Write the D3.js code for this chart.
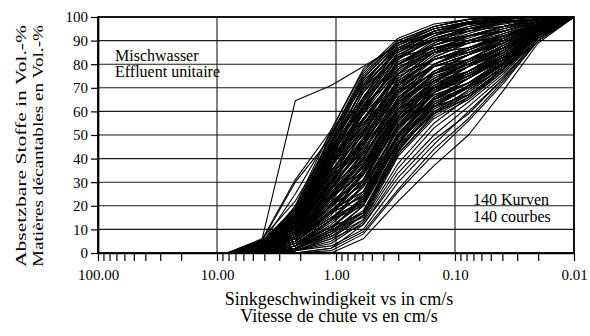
<!DOCTYPE html>
<html>
<head>
<meta charset="utf-8">
<script src="https://cdn.jsdelivr.net/npm/d3@7"></script>
<style>
  body { margin: 0; background: #fff; }
  svg { display: block; }
</style>
</head>
<body>
<div id="chart"></div>
<script>
const FONT = "'Liberation Serif', 'Times New Roman', Times, 'DejaVu Serif', serif";

// velocity classes (cm/s) at which every curve was measured
const velocities = [8.2, 4.2, 2.2, 1.1, 0.59, 0.30, 0.15, 0.077, 0.039, 0.02, 0.01];

// cumulative settleable solids (Vol.-%) per curve, one value per velocity class
const curves = [
  [0,4,17,48,72,88,94,97.5,99.5,100,100],
  [0,3.5,16,46,70,87,94,98,99.5,100,100],
  [0,5,18,49,74,89,93,95,98,99,100],
  [0,4.5,15,44,68,86,93,97,99,100,100],
  [0,4,18,47,66,84,92,96,99,100,100],
  [0,3,14,43,71,89,95,98,99.5,100,100],
  [0,4,17,46,73,87,90,94,98,99.5,100],
  [0,4.5,16,45,62,83,94,97,99,100,100],
  [0,4,19,50,71,86,93,95,96,99,100],
  [0,3.5,17,47,65,80,90,96,98.5,99,100],

  [0,3,16,44,68,84,91,95,98,99,100],
  [0,2.5,14,40,66,85,92,97,99,100,100],
  [0,4,15,47,69,83,90,92,96,99,100],
  [0,3.5,15,42,64,85,94,97,98,99,100],
  [0,4,16,44,61,80,89,95,98,99,100],
  [0,3,12,40,66,87,93,97,98,99.5,100],
  [0,4,16,46,70,83,87,91,96,99,100],
  [0,4,17,43,59,82,91,95,99,100,100],
  [0,4,14,45,70,86,90,92,94,98,100],
  [0,3,15,43,62,78,88,94,98,99,100],

  [0,3,14,41,63,81,88,92,96,99,100],
  [0,2.5,13,37,61,80,89,95,98,99,100],
  [0,3.5,16,44,64,80,87,90,94,98,100],
  [0,3,12,39,59,82,91,94,96,99,100],
  [0,3,15,41,57,76,86,92,96,99,100],
  [0,2,11,37,62,83,91,95,97,99,100],
  [0,3,14,43,66,80,86,90,94,98.5,100],
  [0,3.5,15,39,54,78,88,93,97.5,99,100],
  [0,3,13,40,65,83,87,89,92,98,100],
  [0,3,14,42,59,74,85,92,96,98,100],

  [0,3,13,38,57,77,86,90,94,98,100],
  [0,2.5,12,36,59,78,86,92,96,99,100],
  [0,3,14,40,56,76,85,87,92,97,100],
  [0,2,11,34,54,76,88,92,94,98,100],
  [0,3,15,37,52,72,83,89,94,98,100],
  [0,2.5,11,36,60,80,88,92,95,98,100],
  [0,3,13,39,62,76,82,87,92,97.5,100],
  [0,3,12,35,50,74,85,90,95,99,100],
  [0,3,12,37,61,79,85,87,91,97,100],
  [0,3,13,38,55,71,83,89,93,97,100],

  [0,2.5,12,34,53,73,82,87,92,97,100],
  [0,2,10,32,52,73,84,90,94,98,100],
  [0,3,13,37,54,72,82,85,91,97,100],
  [0,3,11,30,48,74,85,89,92,97,100],
  [0,2.5,13,35,50,69,80,86,92,97,100],
  [0,2,9,30,51,76,85,89,92,97,100],
  [0,3,12,36,57,72,79,84,90,96.5,100],
  [0,3,11,31,45,69,82,87,93,98,100],
  [0,2.5,11,34,56,75,82,85,89,96,100],
  [0,2,12,33,47,67,80,86,92,97,100],

  [0,2,11,31,49,70,80,85,91,97,100],
  [0,1.5,10,29,48,69,80,87,92,97,100],
  [0,3,12,33,48,68,79,82,89,96,100],
  [0,2,10,27,45,71,82,86,91,97,100],
  [0,2,11,30,43,65,77,84,90,97,100],
  [0,1.5,8,27,47,72,82,87,91,96.5,100],
  [0,2,11,33,52,69,76,82,89,96,100],
  [0,2.5,11,28,40,66,79,84,91,97,100],
  [0,2,10,30,51,71,79,82,87,95.5,100],
  [0,2,11,32,46,63,76,84,90,96,100],

  [0,2,9,28,44,66,77,82,89,96,100],
  [0,1.5,8,25,43,65,77,84,90,96.5,100],
  [0,2,10,29,43,64,75,80,87,95,100],
  [0,2,7,24,40,65,79,84,89,96,100],
  [0,2,10,27,38,61,73,81,88,95.5,100],
  [0,1.5,7,24,42,68,79,84,89,96,100],
  [0,2,10,30,47,65,74,80,87,95.5,100],
  [0,2,9,25,36,62,76,82,90,96.5,100],
  [0,2,8,27,46,68,76,80,85,95,100],
  [0,1.5,9,26,37,58,72,81,88,95,100],

  [0,1.5,8,24,39,62,74,80,87,95,100],
  [0,1,7,22,40,63,74,82,89,96,100],
  [0,2,9,26,38,60,72,77,85,94.5,100],
  [0,1.5,7,20,34,61,76,81,87,95,100],
  [0,2,9,25,36,58,71,79,86,95,100],
  [0,1,6,20,37,64,76,82,87,95,100],
  [0,2,8,27,42,61,70,77,85,94.5,100],
  [0,1.5,8,22,31,58,73,80,88,96,100],
  [0,2,7,23,41,64,73,77,83,94,100],
  [0,1,8,24,34,56,71,79,87,95,100],

  [0,1,7,21,35,59,71,77,85,95,100],
  [0,1,6,19,34,58,70,79,86,95,100],
  [0,1.5,8,23,35,57,70,75,83,94,100],
  [0,1,5,17,31,58,73,79,85,95,100],
  [0,1,7,21,31,54,68,76,84,94.5,100],
  [0,0.5,5,17,34,60,73,79,85,95,100],
  [0,1,7,23,37,57,68,74,83,94,100],
  [0,1.5,6,18,26,54,70,77,86,95,100],
  [0,1,6,20,37,60,70,75,82,94,100],
  [0,1,7,20,29,52,68,77,84,94,100],

  [0,1,6,18,30,55,69,75,83,94,100],
  [0,0.5,5,16,31,56,69,77,85,95,100],
  [0,1,7,20,29,53,67,72,82,93,100],
  [0,1,4,14,26,54,70,76,83,94,100],
  [0,1,6,18,26,50,66,74,83,93.5,100],
  [0,0.5,3,14,29,57,70,76,83,94,100],
  [0,1,6,20,33,54,65,72,81,93.5,100],
  [0,1,5,15,22,50,68,75,84,94.5,100],
  [0,1,5,17,33,57,67,72,80,93,100],
  [0,0.5,6,17,24,47,65,74,82,93,100],

  [0,1,5,15,25,51,66,72,82,93,100],
  [0,0,3,12,24,50,65,74,83,94,100],
  [0,1,6,17,24,49,64,70,80,93,100],
  [0,0.5,3,11,22,50,68,74,82,93,100],
  [0,1,5,15,21,47,63,71,81,92.5,100],
  [0,0,2,10,24,53,68,75,82,93,100],
  [0,1,5,17,28,50,62,70,80,92.5,100],
  [0,0.5,4,11,17,46,65,72,82,93.5,100],
  [0,1,3,14,28,53,65,70,78,92.5,100],
  [0,0,4,14,20,45,62,71,81,93,100],

  [0,0,3,11,21,48,63,70,80,93,100],
  [0,0,2,9,20,47,62,71,81,93,100],
  [0,0.5,4,14,22,47,62,67,78,92,100],
  [0,0,2,7,16,46,64,71,80,92.5,100],
  [0,0,4,11,17,44,60,69,79,92.5,100],
  [0,0,1.5,8,20,50,65,72,80,93,100],
  [0,0,3,13,23,46,59,67,78,92,100],
  [0,0.5,3,9,17,43,62,70,81,92.5,100],
  [0,0,2,10,23,49,62,67,78,92,100],
  [0,0,3,10,15,42,59,69,79,92,100],

  [0,0,2,8,16,44,60,67,78,92,100],
  [0,0,1,6,16,42,58,66,78,92,100],
  [0,0,2,9,18,45,59,66,77,91,100],
  [0,0,1,7,14,41,57,65,77,92,100],
  [0,0,2,8,17,43,61,68,79,92,100],

  // slowest, sparse curves
  [0,0,0,0,6,22,37,50,69,89,100],
  [0,0,0,1,8,26,42,56,72,90,100],
  [0,0,1,3,10,30,46,60,74,91,100],
  [0,0,0,2,12,34,50,62,75,90,100],
  [0,0,1,4,13,36,53,64,76,91,100],
  [0,0,1,5,14,38,55,66,78,92,100],
  [0,0,0,2,9,27,44,57,73,90,100],
  [0,0,1,6,12,32,48,59,74,91,100],

  // fastest curves
  [0,5,19,50,76,90,96,99,100,100,100],
  [0,6,22,47,74,89,95,98,100,100,100],
  [0,4,25,51,73,87,94,98,99.5,100,100],
  [0,5,30,49,75,90,96,99,100,100,100],
  [0,3,20,52,77,91,97,99,100,100,100],
  [0,5.5,64.5,71,79,88,95,98,100,100,100],
  [0,5.5,31,52,78,89,96,99,100,100,100]
];

const xTickValues = [100, 10, 1, 0.1, 0.01];
const yTickValues = [0, 10, 20, 30, 40, 50, 60, 70, 80, 90, 100];
const yTitle = ['Absetzbare Stoffe in Vol.-%', 'Matières décantables en Vol.-%'];
const xTitle = ['Sinkgeschwindigkeit vs in cm/s', 'Vitesse de chute vs en cm/s'];
const noteTopLeft = ['Mischwasser', 'Effluent unitaire'];
const noteRight = ['140 Kurven', '140 courbes'];

const width = 590;
const height = 336;
const margin = { top: 17, right: 16, bottom: 83, left: 98 };
const innerWidth = width - margin.left - margin.right;
const innerHeight = height - margin.top - margin.bottom;

const svg = d3.select('#chart')
  .append('svg')
  .attr('width', width)
  .attr('height', height)
  .attr('font-family', FONT);

const g = svg.append('g')
  .attr('transform', `translate(${margin.left},${margin.top})`);

// reversed log axis: fast settling on the left
const x = d3.scaleLog().domain([100, 0.01]).range([0, innerWidth]);
const y = d3.scaleLinear().domain([0, 100]).range([innerHeight, 0]);

// horizontal gridlines
g.append('g')
  .selectAll('line')
  .data(yTickValues)
  .join('line')
  .attr('x1', 0)
  .attr('x2', innerWidth)
  .attr('y1', d => y(d))
  .attr('y2', d => y(d))
  .attr('stroke', '#1a1a1a')
  .attr('stroke-width', 1.1);

// vertical gridlines at the decades
g.append('g')
  .selectAll('line')
  .data(xTickValues)
  .join('line')
  .attr('x1', d => x(d))
  .attr('x2', d => x(d))
  .attr('y1', 0)
  .attr('y2', innerHeight)
  .attr('stroke', '#1a1a1a')
  .attr('stroke-width', 1.1);

// curves
const line = d3.line()
  .x((d, i) => x(velocities[i]))
  .y(d => y(d));

g.append('g')
  .selectAll('path')
  .data(curves)
  .join('path')
  .attr('d', line)
  .attr('fill', 'none')
  .attr('stroke', '#000')
  .attr('stroke-width', 1.1)
  .attr('stroke-linejoin', 'round');

// frame
g.append('rect')
  .attr('width', innerWidth)
  .attr('height', innerHeight)
  .attr('fill', 'none')
  .attr('stroke', '#000')
  .attr('stroke-width', 1.7);

// x axis with minor log ticks below
const xAxis = d3.axisBottom(x)
  .tickValues(x.ticks())
  .tickFormat(d => xTickValues.includes(d) ? d3.format('.2f')(d) : '')
  .tickSize(8)
  .tickSizeOuter(0);

const xg = g.append('g')
  .attr('transform', `translate(0,${innerHeight})`)
  .call(xAxis)
  .attr('font-family', FONT);
xg.select('.domain').attr('stroke-width', 1.7);
xg.selectAll('.tick line').attr('stroke-width', 1.2);
xg.selectAll('.tick text')
  .filter(function () { return this.textContent === ''; })
  .remove();
xg.selectAll('text')
  .attr('dy', '1.05em')
  .attr('font-size', 15);

// y axis
const yAxis = d3.axisLeft(y)
  .tickValues(yTickValues)
  .tickSize(7)
  .tickSizeOuter(0);

const yg = g.append('g').call(yAxis)
  .attr('font-family', FONT);
yg.select('.domain').attr('stroke-width', 1.7);
yg.selectAll('.tick line').attr('stroke-width', 1.2);
yg.selectAll('text')
  .attr('x', -10)
  .attr('font-size', 15);

// notes inside the plot
g.append('text')
  .attr('font-size', 16)
  .selectAll('tspan')
  .data(noteTopLeft)
  .join('tspan')
  .attr('x', 17)
  .attr('y', (d, i) => 44 + i * 16)
  .text(d => d);

g.append('text')
  .attr('font-size', 16)
  .selectAll('tspan')
  .data(noteRight)
  .join('tspan')
  .attr('x', 375)
  .attr('y', (d, i) => 188 + i * 17)
  .text(d => d);

// axis titles
svg.append('g')
  .selectAll('text')
  .data(xTitle)
  .join('text')
  .attr('x', 339)
  .attr('y', (d, i) => 305 + i * 17)
  .attr('text-anchor', 'middle')
  .attr('font-size', 18)
  .text(d => d);

svg.append('g')
  .selectAll('text')
  .data(yTitle)
  .join('text')
  .attr('transform', (d, i) => `translate(${26 + i * 17},146) rotate(-90)`)
  .attr('text-anchor', 'middle')
  .attr('textLength', 242)
  .attr('lengthAdjust', 'spacingAndGlyphs')
  .attr('font-size', 15)
  .text(d => d);
</script>
</body>
</html>
